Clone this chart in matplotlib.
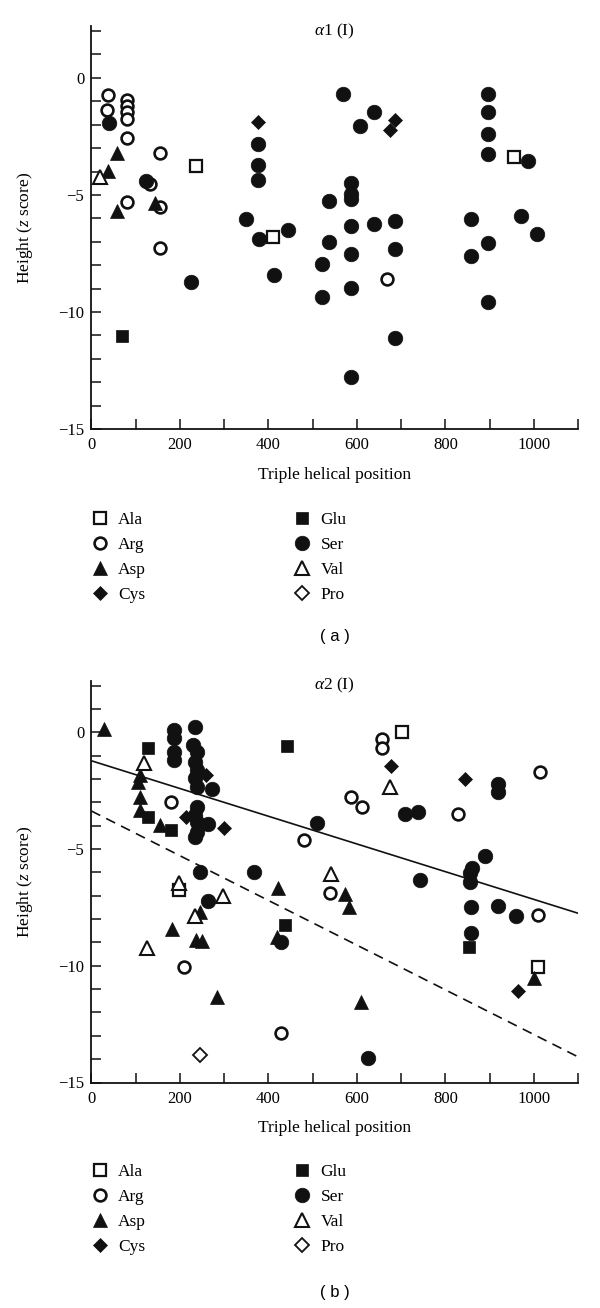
import matplotlib.pyplot as plt
from matplotlib.lines import Line2D
from matplotlib.ticker import MultipleLocator

plt.rcParams['font.family'] = 'serif'
plt.rcParams['font.serif'] = ['Liberation Serif', 'DejaVu Serif']
plt.rcParams['mathtext.fontset'] = 'custom'
plt.rcParams['mathtext.rm'] = 'Liberation Serif'
plt.rcParams['mathtext.it'] = 'Liberation Serif:italic'

INK = '#111111'

# ---- panel (a): alpha1(I) ----
a_ala_x = [236, 410, 955]
a_ala_y = [-3.78, -6.79, -3.39]
a_arg_x = [37, 35, 80, 80, 80, 80, 80, 155, 133, 80, 155, 155, 667]
a_arg_y = [-0.74, -1.36, -0.95, -1.2, -1.45, -1.75, -2.56, -3.2, -4.53, -5.32, -5.53, -7.28, -8.61]
a_asp_x = [59, 37, 57, 144]
a_asp_y = [-3.22, -3.99, -5.68, -5.36]
a_cys_x = [377, 686, 675]
a_cys_y = [-1.89, -1.82, -2.24]
a_glu_x = [70]
a_glu_y = [-11.04]
a_ser_x = [40, 124, 377, 377, 377, 349, 379, 445, 413, 225, 538, 538, 520, 522,
           568, 639, 607, 586, 586, 586, 586, 586, 586, 586, 639, 685, 685, 685,
           897, 897, 897, 897, 987, 858, 858, 895, 897, 970, 1006]
a_ser_y = [-1.93, -4.39, -2.82, -3.7, -4.36, -6.03, -6.87, -6.51, -8.42, -8.71, -5.28, -7.01, -7.94, -9.37,
           -0.7, -1.46, -2.07, -4.5, -4.96, -5.18, -6.32, -7.54, -8.97, -12.76, -6.25, -6.11, -7.32, -11.12,
           -0.7, -1.46, -2.39, -3.27, -3.53, -6.03, -7.61, -7.04, -9.58, -5.89, -6.65]
a_val_x = [20]
a_val_y = [-4.25]
a_pro_x = []
a_pro_y = []

# ---- panel (b): alpha2(I) ----
b_ala_x = [198, 701, 1008]
b_ala_y = [-6.75, 0.03, -10.07]
b_arg_x = [179, 209, 429, 480, 539, 587, 611, 656, 656, 828, 1008, 1014]
b_arg_y = [-3.0, -10.04, -12.86, -4.6, -6.87, -2.76, -3.21, -0.3, -0.66, -3.5, -7.82, -1.69]
b_asp_x = [29, 110, 106, 110, 110, 155, 183, 236, 249, 245, 285, 421, 419, 572, 582, 609, 999]
b_asp_y = [0.13, -1.83, -2.12, -2.76, -3.33, -3.97, -8.44, -8.9, -8.93, -7.7, -11.32, -6.65, -8.75,
           -6.93, -7.5, -11.54, -10.54]
b_cys_x = [258, 215, 300, 677, 844, 964]
b_cys_y = [-1.85, -3.61, -4.1, -1.44, -2.0, -11.07]
b_glu_x = [129, 129, 180, 443, 437, 854]
b_glu_y = [-0.66, -3.61, -4.18, -0.58, -8.25, -9.18]
b_ser_x = [187, 187, 187, 187, 234, 230, 238, 235, 238, 235, 238, 272, 238, 235, 238, 238, 235, 264,
           245, 264, 367, 428, 510, 624, 709, 737, 742, 889, 859, 855, 855, 858, 858, 919, 919, 919, 959]
b_ser_y = [0.1, -0.26, -0.83, -1.19, 0.24, -0.54, -0.83, -1.26, -1.61, -1.97, -2.33, -2.43, -3.19, -3.54,
           -3.83, -4.25, -4.47, -3.94, -5.97, -7.21, -6.0, -8.97, -3.9, -13.96, -3.5, -3.4, -6.33, -5.3,
           -5.83, -6.04, -6.4, -7.5, -8.58, -2.21, -2.54, -7.44, -7.87]
b_val_x = [120, 125, 198, 235, 298, 541, 675]
b_val_y = [-1.33, -9.25, -6.45, -7.85, -7.01, -6.07, -2.33]
b_pro_x = [245]
b_pro_y = [-13.82]

# regression lines for panel (b): intercept, slope
fit_solid = (-1.22, -0.00594)
fit_dashed = (-3.37, -0.00958)
fit_x = [0, 1100]

residues = ['Ala', 'Arg', 'Asp', 'Cys', 'Glu', 'Ser', 'Val', 'Pro']
STYLE = {
    'Ala': dict(marker='s', ms=8.5, mfc='white', mec=INK, mew=1.6),
    'Arg': dict(marker='o', ms=8.5, mfc='white', mec=INK, mew=1.9),
    'Asp': dict(marker='^', ms=10.5, mfc=INK, mec=INK, mew=0.5),
    'Cys': dict(marker='D', ms=7.5, mfc=INK, mec=INK, mew=0.5),
    'Glu': dict(marker='s', ms=8.5, mfc=INK, mec=INK, mew=0.5),
    'Ser': dict(marker='o', ms=10.5, mfc=INK, mec=INK, mew=0.5),
    'Val': dict(marker='^', ms=10.5, mfc='white', mec=INK, mew=1.5),
    'Pro': dict(marker='D', ms=7.5, mfc='white', mec=INK, mew=1.3),
}

panel_a = {'Ala': (a_ala_x, a_ala_y), 'Arg': (a_arg_x, a_arg_y), 'Asp': (a_asp_x, a_asp_y),
           'Cys': (a_cys_x, a_cys_y), 'Glu': (a_glu_x, a_glu_y), 'Ser': (a_ser_x, a_ser_y),
           'Val': (a_val_x, a_val_y), 'Pro': (a_pro_x, a_pro_y)}
panel_b = {'Ala': (b_ala_x, b_ala_y), 'Arg': (b_arg_x, b_arg_y), 'Asp': (b_asp_x, b_asp_y),
           'Cys': (b_cys_x, b_cys_y), 'Glu': (b_glu_x, b_glu_y), 'Ser': (b_ser_x, b_ser_y),
           'Val': (b_val_x, b_val_y), 'Pro': (b_pro_x, b_pro_y)}

fig = plt.figure(figsize=(6, 13.08), dpi=100)
H = 1308.0


def draw_panel(rect, data, title, legend_top, tag, tag_y, lines=False):
    ax = fig.add_axes(rect)
    if lines:
        b0, m = fit_solid
        ax.plot(fit_x, [b0 + m * x for x in fit_x], color=INK, lw=1.2, zorder=1)
        b0, m = fit_dashed
        ax.plot(fit_x, [b0 + m * x for x in fit_x], color=INK, lw=1.2, ls=(0, (6, 4)), zorder=1)
    for name in residues:
        xs, ys = data[name]
        if xs:
            ax.plot(xs, ys, ls='none', zorder=3, **STYLE[name])

    ax.set_xlim(0, 1100)
    ax.set_ylim(-15, 2.2)
    for s in ['top', 'right']:
        ax.spines[s].set_visible(False)
    for s in ['left', 'bottom']:
        ax.spines[s].set_linewidth(1.3)
        ax.spines[s].set_color(INK)
    ax.xaxis.set_major_locator(MultipleLocator(200))
    ax.xaxis.set_minor_locator(MultipleLocator(100))
    ax.yaxis.set_major_locator(MultipleLocator(5))
    ax.yaxis.set_minor_locator(MultipleLocator(1))
    ax.tick_params(which='both', direction='in', length=7.5, width=1.1, color=INK)
    ax.tick_params(axis='x', labelsize=12, pad=6)
    ax.tick_params(axis='y', labelsize=12, pad=5)

    ax.set_xlabel('Triple helical position', fontsize=12.5)
    ax.xaxis.set_label_coords(0.5, -0.094)
    ax.set_ylabel('Height ($z$ score)', fontsize=12.5)
    ax.yaxis.set_label_coords(-0.115, 0.5)
    ax.text(550, 2.0, title, ha='center', va='center', fontsize=12.5)

    handles = [Line2D([], [], ls='none', **STYLE[n]) for n in residues]
    ax.legend(handles, residues, ncol=2, loc='upper left',
              bbox_to_anchor=(0.152, 1 - legend_top / H), bbox_transform=fig.transFigure,
              frameon=False, handlelength=1.0, handletextpad=0.55, columnspacing=8.5,
              labelspacing=0.5, borderpad=0, borderaxespad=0, fontsize=12.5)

    fig.text(335 / 600, 1 - tag_y / H, tag, ha='center', va='center',
             family='Liberation Sans', fontsize=12)
    return ax


draw_panel([91.3 / 600, 1 - 429 / H, 487 / 600, 402.6 / H], panel_a,
           r'$\alpha$1 (I)', 512, '( a )', 636)
draw_panel([91.3 / 600, 1 - 1082.5 / H, 487 / 600, 401.6 / H], panel_b,
           r'$\alpha$2 (I)', 1164, '( b )', 1292, lines=True)

fig.savefig('out.png', dpi=100)
